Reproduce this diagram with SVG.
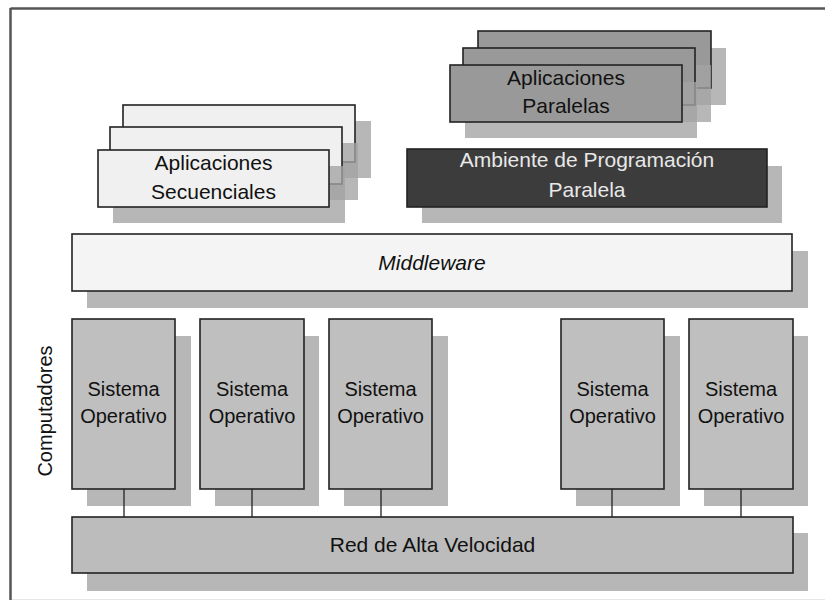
<svg xmlns="http://www.w3.org/2000/svg" width="825" height="600" viewBox="0 0 825 600">
<style>
text{font-family:"Liberation Sans",Arial,sans-serif;font-size:21px;fill:#111;text-anchor:middle}
.sh{fill:#a3a3a3;fill-opacity:0.78;stroke:none}
.b{stroke:#222;stroke-width:1.6}
.light{fill:#f0f0f0}
.mid{fill:#999999}
.dark{fill:#3c3c3c}
.os{fill:#bfbfbf}
.so{font-size:20px}
.con{stroke:#222;stroke-width:1.3;fill:none}
</style>
<rect x="0" y="0" width="825" height="600" fill="#ffffff"/>
<g id="frame">
<line x1="10.5" y1="8.5" x2="825" y2="8.5" stroke="#555" stroke-width="2.5"/>
<line x1="10.5" y1="8" x2="10.5" y2="600" stroke="#555" stroke-width="2.5"/>
<line x1="12" y1="599.5" x2="825" y2="599.5" stroke="#e6e6e6" stroke-width="1"/>
</g>
<g id="apps-secuenciales">
<rect class="sh" x="139" y="121" width="232" height="57"/>
<rect class="b light" x="123" y="105" width="232" height="57"/>
<rect class="sh" x="126" y="143" width="232" height="57"/>
<rect class="b light" x="110" y="127" width="232" height="57"/>
<rect class="sh" x="113" y="166" width="232" height="57"/>
<rect class="b light" x="98" y="150" width="231" height="57"/>
<text x="213.5" y="170">Aplicaciones</text>
<text x="213.5" y="199">Secuenciales</text>
</g>
<g id="apps-paralelas">
<rect class="sh" x="494" y="48" width="232" height="57"/>
<rect class="b mid" x="478" y="31" width="233" height="57"/>
<rect class="sh" x="479" y="65" width="232" height="57"/>
<rect class="b mid" x="463" y="48" width="232" height="57"/>
<rect class="sh" x="465" y="82" width="232" height="56"/>
<rect class="b mid" x="450" y="65" width="232" height="57"/>
<text x="566" y="85">Aplicaciones</text>
<text x="566" y="113">Paralelas</text>
</g>
<g id="ambiente">
<rect class="sh" x="422" y="166" width="360" height="57"/>
<rect class="b dark" x="407" y="149" width="360" height="58"/>
<text x="587" y="167" style="fill:#e8e8e8">Ambiente de Programación</text>
<text x="587" y="197" style="fill:#e8e8e8">Paralela</text>
</g>
<g id="middleware">
<rect class="sh" x="87" y="251" width="721" height="57"/>
<rect class="b" fill="#f4f4f4" x="72" y="234" width="720" height="57"/>
<text x="432" y="270" font-style="italic">Middleware</text>
</g>
<g id="computadores-label">
<text transform="translate(52 411) rotate(-90)" style="font-size:20px">Computadores</text>
</g>
<g id="so1">
<rect class="sh" x="87" y="336" width="104" height="170"/>
<rect class="b os" x="72" y="319" width="103" height="170"/>
<text class="so" x="123.5" y="396">Sistema</text>
<text class="so" x="123.5" y="423">Operativo</text>
</g>
<g id="so2">
<rect class="sh" x="215" y="336" width="104" height="170"/>
<rect class="b os" x="200" y="319" width="104" height="170"/>
<text class="so" x="252" y="396">Sistema</text>
<text class="so" x="252" y="423">Operativo</text>
</g>
<g id="so3">
<rect class="sh" x="344" y="336" width="104" height="170"/>
<rect class="b os" x="329" y="319" width="103" height="170"/>
<text class="so" x="380.5" y="396">Sistema</text>
<text class="so" x="380.5" y="423">Operativo</text>
</g>
<g id="so4">
<rect class="sh" x="576" y="336" width="104" height="170"/>
<rect class="b os" x="561" y="319" width="103" height="170"/>
<text class="so" x="612.5" y="396">Sistema</text>
<text class="so" x="612.5" y="423">Operativo</text>
</g>
<g id="so5">
<rect class="sh" x="704" y="336" width="104" height="170"/>
<rect class="b os" x="689" y="319" width="104" height="170"/>
<text class="so" x="741" y="396">Sistema</text>
<text class="so" x="741" y="423">Operativo</text>
</g>
<g id="connectors">
<line class="con" x1="124" y1="489" x2="124" y2="517"/>
<line class="con" x1="252" y1="489" x2="252" y2="517"/>
<line class="con" x1="381" y1="489" x2="381" y2="517"/>
<line class="con" x1="612" y1="489" x2="612" y2="517"/>
<line class="con" x1="741" y1="489" x2="741" y2="517"/>
</g>
<g id="red">
<rect class="sh" x="87" y="533" width="721" height="58"/>
<rect class="b" fill="#bcbcbc" x="72" y="517" width="721" height="56"/>
<text x="432.5" y="552">Red de Alta Velocidad</text>
</g>
</svg>
